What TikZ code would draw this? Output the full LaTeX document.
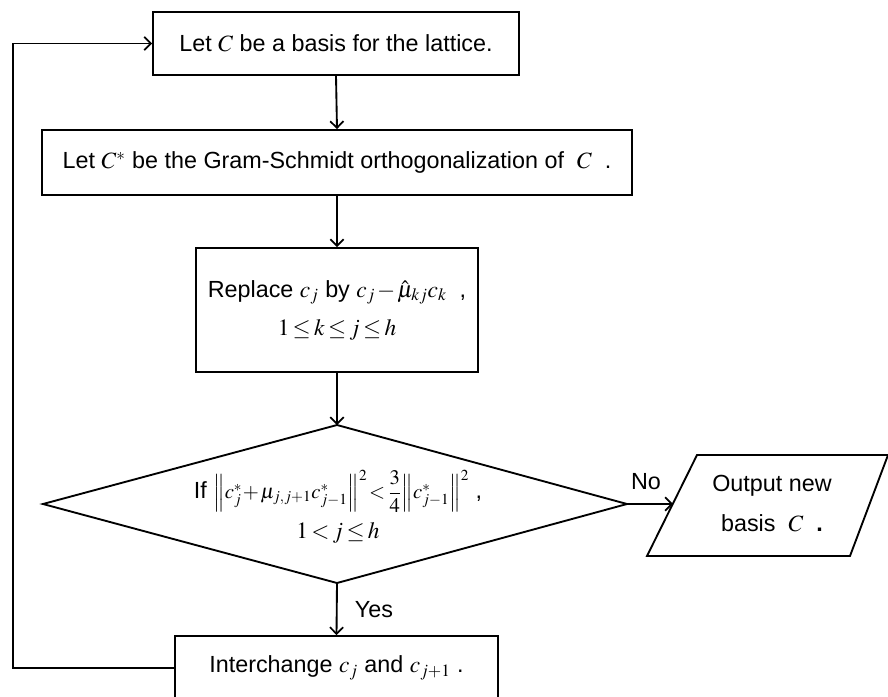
\documentclass[tikz,border=0pt]{standalone}
\usepackage{mathptmx}
\usepackage[no-math]{fontspec}
\setmainfont{Liberation Sans}
\usetikzlibrary{arrows.meta}
\newcommand{\tightmath}{\thickmuskip=2.5mu\medmuskip=1.5mu\thinmuskip=1mu}
\begin{document}
\begin{tikzpicture}[x=0.75pt,y=-0.75pt,
  lw/.style={line width=1.4pt},
  box/.style={draw,lw,inner sep=0pt,align=center,font=\fontsize{17.5}{21}\selectfont\tightmath},
  txt/.style={inner sep=0pt,align=center,font=\fontsize{17.5}{21}\selectfont\tightmath},
  arr/.style={lw,-{Straight Barb[length=5pt,width=10pt,line width=1.3pt]}}]
\useasboundingbox (0,0) rectangle (888,696);
% boxes
\node[box,minimum width=274.5pt,minimum height=47.25pt] (b1) at (336,43.5)
  {Let $C$ be a basis for the lattice.};
\node[box,minimum width=442.5pt,minimum height=48.75pt] (b2) at (337,162.5)
  {Let $C^{*}$ be the Gram-Schmidt orthogonalization of\ \ $C$\ \ .};
\node[box,minimum width=211.5pt,minimum height=93pt,
  font=\fontsize{17.5}{28.5}\selectfont\tightmath] (b3) at (337,310)
  {Replace $c_j$ by $c_j-\hat{\mu}_{kj}c_k$\ \ ,\\ $1\le k\le j\le h$};
\node[box,minimum width=242.25pt,minimum height=48pt] (b5) at (336.5,668)
  {Interchange $c_j$ and $c_{j+1}$ .};
% decision diamond
\coordinate (dT) at (337,425);
\coordinate (dR) at (627,504);
\coordinate (dB) at (337,583);
\coordinate (dL) at (43,504);
\draw[lw,line join=miter] (dT) -- (dR) -- (dB) -- (dL) -- cycle;
\node[txt,font=\fontsize{17.5}{30}\selectfont\tightmath] (dtext) at (338,507)
  {If {\fontsize{15.5}{30}\selectfont$\left\|c_j^{*}\!+\mu_{j,j+1}c_{j-1}^{*}\right\|^2\!<{\displaystyle\frac{3}{4}}\!\left\|c_{j-1}^{*}\right\|^2$} ,\\ $1<j\le h$};
% output parallelogram
\coordinate (p1) at (697,455);
\coordinate (p2) at (888,455);
\coordinate (p3) at (850,556);
\coordinate (p4) at (647,556);
\coordinate (pL) at (673,504);
\draw[lw] (p1) -- (p2) -- (p3) -- (p4) -- cycle;
\node[txt,font=\fontsize{17.5}{30}\selectfont] (ptext) at (772,504)
  {Output new\\basis\ \ $C$\ \ {\bfseries .}};
% connectors
\draw[arr] (b1.south) -- (b2.north);
\draw[arr] (b2.south) -- (b3.north);
\draw[arr] (b3.south) -- (dT);
\draw[arr] (dR) -- (pL);
\draw[arr] (dB) -- (b5.north);
\coordinate (fb) at (13,668);
\draw[arr] (b5.west) -- (fb) |- (b1.west);
% labels
\node[txt] (no) at (646,482) {No};
\node[txt] (yes) at (374,610) {Yes};
\end{tikzpicture}
\end{document}
